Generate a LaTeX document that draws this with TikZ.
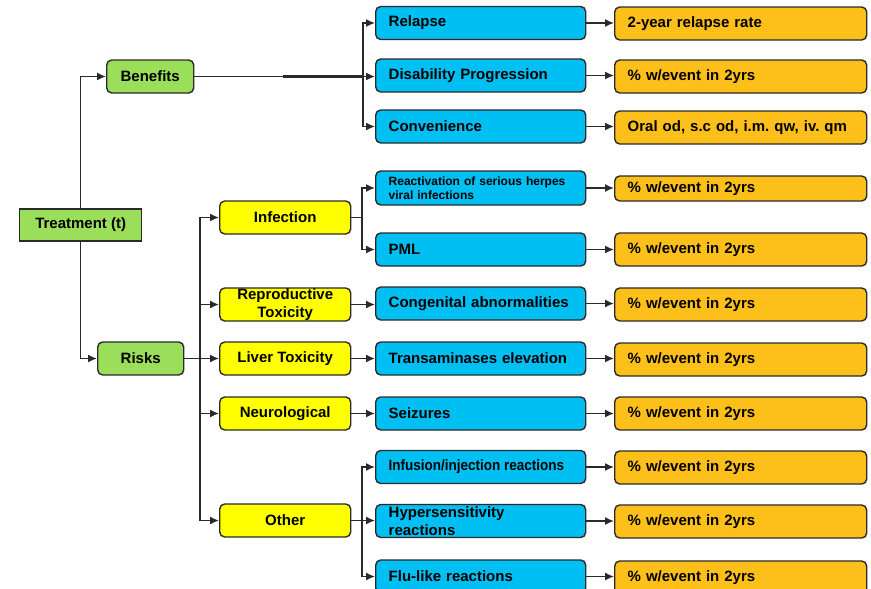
\documentclass[tikz,border=0pt]{standalone}
\usepackage{fontspec}
\usepackage{graphicx}
\setmainfont{Liberation Sans}
\usetikzlibrary{arrows.meta}
\definecolor{gfill}{HTML}{9BDE5A}
\definecolor{bfill}{HTML}{00BFF3}
\definecolor{yfill}{HTML}{FFFF00}
\definecolor{ofill}{HTML}{FDBF1A}
\definecolor{edge}{HTML}{2A2A2A}
\tikzset{
  box/.style={draw=edge, line width=1.4pt, rounded corners=5pt, inner ysep=0pt,
     font=\fontsize{15}{18}\selectfont\bfseries, anchor=west},
  gbox/.style={box, fill=gfill, align=center},
  ybox/.style={box, fill=yfill, align=center, minimum width=131pt, minimum height=33pt},
  bbox/.style={box, fill=bfill, align=left, text width=184pt, inner xsep=13pt, minimum height=33pt},
  obox/.style={box, fill=ofill, align=left, text width=226pt, inner xsep=13pt, minimum height=33pt},
  conn/.style={draw=edge, line width=1.5pt},
  arr/.style={conn, -{Latex[length=9pt,width=8pt]}},
}
\begin{document}
\hyphenpenalty=10000
\exhyphenpenalty=10000
\frenchspacing
\begin{tikzpicture}[x=1pt,y=-1pt]
\useasboundingbox (0,0) rectangle (871,589);
% root and level 1
\node[gbox, rounded corners=0pt, minimum width=122pt, minimum height=32pt] (treat) at (19,225) {Treatment (t)};
\node[gbox, minimum width=87pt, minimum height=33pt] (ben) at (106,76.5) {Benefits};
\node[gbox, minimum width=86pt, minimum height=33pt] (risks) at (97,358.5) {Risks};
% yellow
\node[ybox] (inf) at (219,217.5) {Infection};
\node[ybox] (repr) at (219,304.5) {Reproductive\\Toxicity};
\node[ybox] (liver) at (219,358.5) {Liver Toxicity};
\node[ybox] (neuro) at (219,413.5) {Neurological};
\node[ybox] (other) at (219,520.5) {Other};
% blue
\node[bbox] (rel) at (375,23) {Relapse};
\node[bbox] (dis) at (375,75.5) {Disability Progression};
\node[bbox] (conv) at (375,126.5) {Convenience};
\node[bbox, minimum height=34pt, font=\fontsize{12}{14}\selectfont\bfseries] (react) at (375,188) {Reactivation of serious herpes\\viral infections};
\node[bbox] (pml) at (375,249.5) {PML};
\node[bbox] (cong) at (375,303.5) {Congenital abnormalities};
\node[bbox] (trans) at (375,358.5) {Transaminases elevation};
\node[bbox] (seiz) at (375,413.5) {Seizures};
\node[bbox] (infus) at (375,467) {\scalebox{0.9}[1]{Infusion/injection\kern-1pt\ reactions}};
\node[bbox] (hyper) at (375,521) {Hypersensitivity\\reactions};
\node[bbox] (flu) at (375,576.5) {Flu-like reactions};
% orange
\node[obox] (o1) at (614,23.5) {2-year relapse rate};
\node[obox] (o2) at (614,76.5) {\% w/event in 2yrs};
\node[obox] (o3) at (614,127.5) {Oral od, s.c od, i.m. qw, iv. qm};
\node[obox, minimum height=25pt] (o4) at (614,188.5) {\% w/event in 2yrs};
\node[obox] (o5) at (614,249.5) {\% w/event in 2yrs};
\node[obox] (o6) at (614,304.5) {\% w/event in 2yrs};
\node[obox] (o7) at (614,359.5) {\% w/event in 2yrs};
\node[obox] (o8) at (614,413.5) {\% w/event in 2yrs};
\node[obox] (o9) at (614,467.5) {\% w/event in 2yrs};
\node[obox] (o10) at (614,521.5) {\% w/event in 2yrs};
\node[obox] (o11) at (614,577.5) {\% w/event in 2yrs};
% bus coordinates
\coordinate (bbus) at (363,76.5);
\coordinate (bthick) at (283,76.5);
\coordinate (rbus) at (200,358.5);
\coordinate (ibus) at (362,217.5);
\coordinate (obus) at (362,520.5);
% root connectors
\draw[arr] (treat.north) |- (ben.west);
\draw[arr] (treat.south) |- (risks.west);
% benefits
\draw[conn] (ben.east) -- (bbus);
\draw[conn, line width=2.4pt] (bthick) -- (bbus);
\draw[arr] (bbus) |- (rel.west);
\draw[arr] (bbus) -- (bbus -| dis.west);
\draw[arr] (bbus) |- (conv.west);
% risks
\draw[conn] (risks.east) -- (rbus);
\draw[arr] (rbus) |- (inf.west);
\draw[arr] (rbus) |- (repr.west);
\draw[arr] (rbus) -- (liver.west);
\draw[arr] (rbus) |- (neuro.west);
\draw[arr] (rbus) |- (other.west);
% infection
\draw[conn] (inf.east) -- (ibus);
\draw[arr] (ibus) |- (react.west);
\draw[arr] (ibus) |- (pml.west);
% single
\draw[arr] (repr.east) -- (repr.east -| cong.west);
\draw[arr] (liver.east) -- (trans.west);
\draw[arr] (neuro.east) -- (seiz.west);
% other
\draw[conn] (other.east) -- (obus);
\draw[arr] (obus) |- (infus.west);
\draw[arr] (obus) -- (obus -| hyper.west);
\draw[arr] (obus) |- (flu.west);
% blue to orange
\foreach \b/\o in {rel/o1,dis/o2,conv/o3,react/o4,pml/o5,cong/o6,trans/o7,seiz/o8,infus/o9,hyper/o10,flu/o11}
  \draw[arr] (\b.east) -- (\b.east -| \o.west);
\end{tikzpicture}
\end{document}
